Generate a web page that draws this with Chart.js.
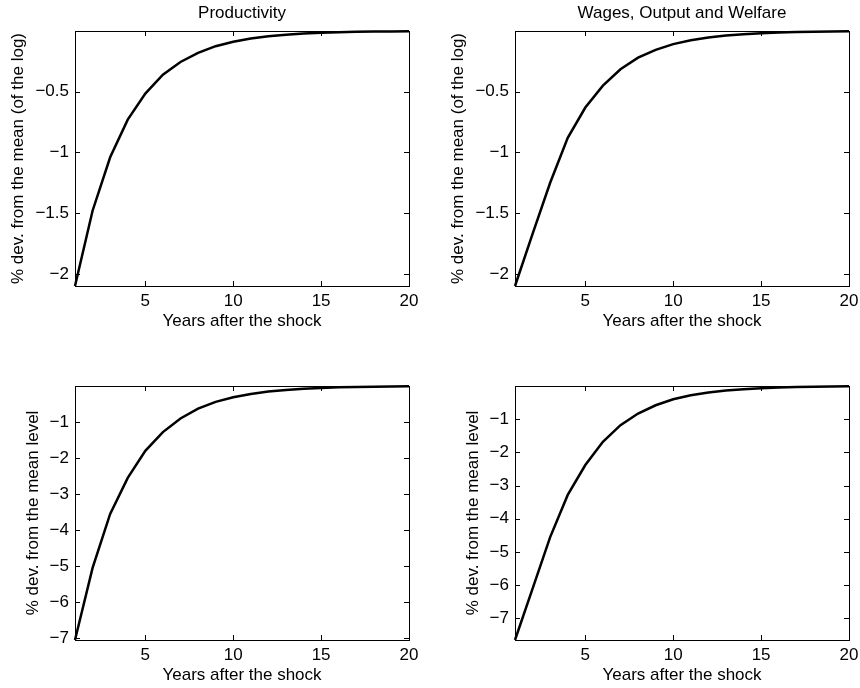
<!DOCTYPE html>
<html>
<head>
<meta charset="utf-8">
<script src="https://cdn.jsdelivr.net/npm/chart.js@4/dist/chart.umd.min.js"></script>
<style>
  html, body { margin: 0; padding: 0; background: #fff; }
  body { width: 860px; height: 688px; position: relative; overflow: hidden; }
  canvas { position: absolute; }
</style>
</head>
<body>
<canvas id="c1"></canvas>
<canvas id="c2"></canvas>
<canvas id="c3"></canvas>
<canvas id="c4"></canvas>
<script>
// datos
const years = [1, 2, 3, 4, 5, 6, 7, 8, 9, 10, 11, 12, 13, 14, 15, 16, 17, 18, 19, 20];
const productivityLog = [-2.10, -1.48, -1.04, -0.73, -0.515, -0.36, -0.255, -0.18, -0.125, -0.088,
    -0.062, -0.043, -0.030, -0.021, -0.015, -0.010, -0.007, -0.005, -0.004, -0.003];
const wagesLog = [-2.10, -1.67, -1.25, -0.88, -0.63, -0.45, -0.315, -0.22, -0.155, -0.108,
    -0.076, -0.053, -0.037, -0.026, -0.018, -0.013, -0.009, -0.006, -0.004, -0.003];
const productivityLevel = [-7.05, -5.05, -3.55, -2.55, -1.80, -1.28, -0.90, -0.63, -0.44, -0.31,
    -0.22, -0.155, -0.11, -0.075, -0.053, -0.037, -0.026, -0.018, -0.013, -0.009];
const wagesLevel = [-7.65, -6.10, -4.55, -3.28, -2.38, -1.68, -1.18, -0.83, -0.58, -0.40,
    -0.28, -0.195, -0.137, -0.096, -0.067, -0.047, -0.033, -0.023, -0.016, -0.011];
const xTicks = [5, 10, 15, 20];
const yTicksLog = [-2, -1.5, -1, -0.5];
const yTicksLevel = [-7, -6, -5, -4, -3, -2, -1];
const titles = ['Productivity', 'Wages, Output and Welfare', '', ''];
const yTitleLog = '% dev. from the mean (of the log)';
const yTitleLevel = '% dev. from the mean level';
const xTitle = 'Years after the shock';

const FONT = '"Liberation Sans", Arial, Helvetica, sans-serif';
Chart.defaults.font.family = FONT;
Chart.defaults.font.size = 17;
Chart.defaults.color = '#000';

// marco estilo MATLAB con marcas hacia dentro en los cuatro lados
const framePlugin = {
    id: 'frame',
    afterDraw(chart, args, opts) {
        const { ctx, chartArea: a, scales } = chart;
        ctx.save();
        ctx.strokeStyle = '#000';
        ctx.lineWidth = 1;
        ctx.strokeRect(Math.round(a.left) + 0.5, Math.round(a.top) + 0.5,
            Math.round(a.right - a.left), Math.round(a.bottom - a.top));
        const len = 5;
        ctx.beginPath();
        scales.x.ticks.forEach(t => {
            const px = Math.round(scales.x.getPixelForValue(t.value)) + 0.5;
            ctx.moveTo(px, a.bottom); ctx.lineTo(px, a.bottom - len);
            ctx.moveTo(px, a.top); ctx.lineTo(px, a.top + len);
        });
        scales.y.ticks.forEach(t => {
            const py = Math.round(scales.y.getPixelForValue(t.value)) + 0.5;
            ctx.moveTo(a.left, py); ctx.lineTo(a.left + len, py);
            ctx.moveTo(a.right, py); ctx.lineTo(a.right - len, py);
        });
        ctx.stroke();
        if (opts.title) {
            ctx.fillStyle = '#000';
            ctx.font = '17px ' + FONT;
            ctx.textAlign = 'center';
            ctx.textBaseline = 'middle';
            ctx.fillText(opts.title, (a.left + a.right) / 2, a.top - 18);
        }
        ctx.restore();
    }
};

const PAD_R = 18;

function panel(id, plot, values, yMin, yTicks, yTitle, yTitlePad, title) {
    const canvas = document.getElementById(id);
    const w = plot.right - plot.left + 75 + PAD_R;
    const h = plot.bottom - plot.top + 31 + 48;
    canvas.width = w; canvas.height = h;
    canvas.style.left = (plot.left - 75) + 'px';
    canvas.style.top = (plot.top - 31) + 'px';
    canvas.style.width = w + 'px'; canvas.style.height = h + 'px';

    new Chart(canvas, {
        type: 'line',
        data: {
            datasets: [{
                data: years.map((yr, i) => ({ x: yr, y: values[i] })),
                borderColor: '#000',
                borderWidth: 2.5,
                pointRadius: 0,
                tension: 0,
                fill: false,
                clip: 4
            }]
        },
        options: {
            responsive: false,
            animation: false,
            devicePixelRatio: 1,
            layout: { padding: { left: 0, top: 31, right: PAD_R, bottom: 0 } },
            plugins: { legend: { display: false }, tooltip: { enabled: false }, frame: { title } },
            scales: {
                x: {
                    type: 'linear', min: 1, max: 20,
                    grid: { display: false, drawTicks: false },
                    border: { display: false },
                    afterBuildTicks: s => { s.ticks = xTicks.map(v => ({ value: v })); },
                    afterFit: s => { s.height = 48; },
                    ticks: { padding: 5, maxRotation: 0 },
                    title: { display: true, text: xTitle, padding: { top: 0, bottom: 2 } }
                },
                y: {
                    type: 'linear', min: yMin, max: 0,
                    grid: { display: false, drawTicks: false },
                    border: { display: false },
                    afterBuildTicks: s => { s.ticks = yTicks.map(v => ({ value: v })); },
                    afterFit: s => { s.width = 75; },
                    ticks: { padding: 6, callback: v => String(v).replace('-', '\u2212') },
                    title: { display: true, text: yTitle, padding: { top: yTitlePad, bottom: 0 } }
                }
            }
        },
        plugins: [framePlugin]
    });
}

panel('c1', { left: 75, right: 409, top: 31, bottom: 286 }, productivityLog, -2.1, yTicksLog, yTitleLog, 8, titles[0]);
panel('c2', { left: 515, right: 849, top: 31, bottom: 286 }, wagesLog, -2.1, yTicksLog, yTitleLog, 8, titles[1]);
panel('c3', { left: 75, right: 409, top: 386, bottom: 640 }, productivityLevel, -7.05, yTicksLevel, yTitleLevel, 23, titles[2]);
panel('c4', { left: 515, right: 849, top: 386, bottom: 640 }, wagesLevel, -7.65, yTicksLevel, yTitleLevel, 23, titles[3]);
</script>
</body>
</html>
